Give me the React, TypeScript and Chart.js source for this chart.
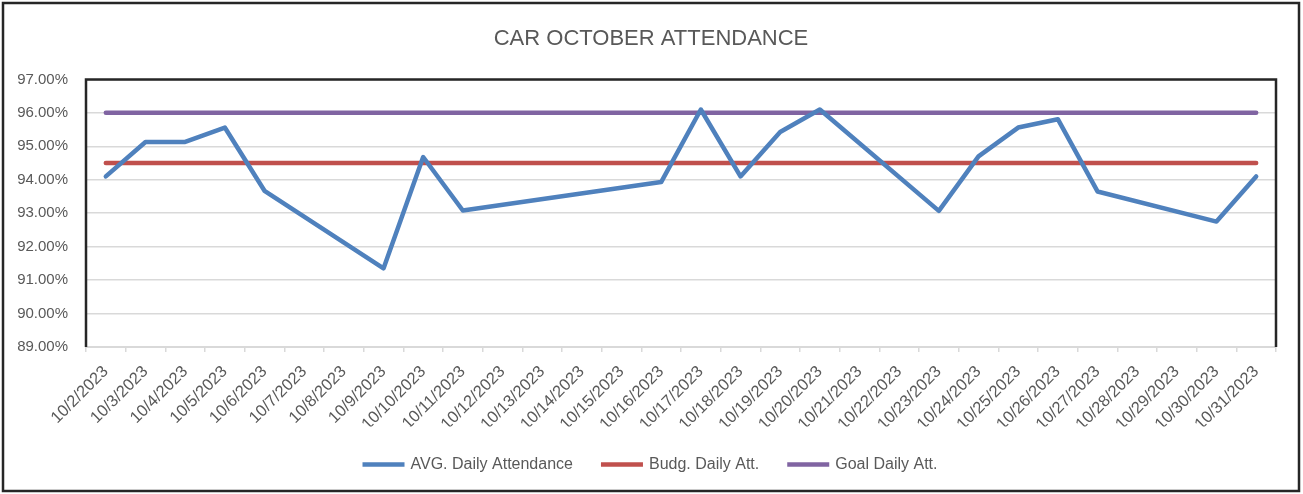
import React, { useEffect, useRef } from 'react';
import { Chart, registerables } from 'chart.js';

Chart.register(...registerables);

const categories = [
  '10/2/2023', '10/3/2023', '10/4/2023', '10/5/2023', '10/6/2023', '10/7/2023',
  '10/8/2023', '10/9/2023', '10/10/2023', '10/11/2023', '10/12/2023', '10/13/2023',
  '10/14/2023', '10/15/2023', '10/16/2023', '10/17/2023', '10/18/2023', '10/19/2023',
  '10/20/2023', '10/21/2023', '10/22/2023', '10/23/2023', '10/24/2023', '10/25/2023',
  '10/26/2023', '10/27/2023', '10/28/2023', '10/29/2023', '10/30/2023', '10/31/2023',
];

const avgDailyAttendance = [
  94.1, 95.13, 95.13, 95.56, 93.67, null,
  null, 91.35, 94.68, 93.08, null, null,
  null, null, 93.93, 96.1, 94.1, 95.43,
  96.1, null, null, 93.07, 94.7, 95.56,
  95.81, 93.65, null, null, 92.75, 94.1,
];

const budgDailyAtt = [
  94.5, 94.5, 94.5, 94.5, 94.5, 94.5,
  94.5, 94.5, 94.5, 94.5, 94.5, 94.5,
  94.5, 94.5, 94.5, 94.5, 94.5, 94.5,
  94.5, 94.5, 94.5, 94.5, 94.5, 94.5,
  94.5, 94.5, 94.5, 94.5, 94.5, 94.5,
];

const goalDailyAtt = [
  96, 96, 96, 96, 96, 96,
  96, 96, 96, 96, 96, 96,
  96, 96, 96, 96, 96, 96,
  96, 96, 96, 96, 96, 96,
  96, 96, 96, 96, 96, 96,
];

const yMin = 89;
const yMax = 97;
const yStep = 1;

const FONT = "'Liberation Sans', Arial, sans-serif";
const TEXT = '#595959';

const framePlugin = {
  id: 'frame',
  beforeLayout(chart: any) {
    const lg = chart.legend;
    if (lg && !lg.__patched) {
      const orig = lg.fit.bind(lg);
      lg.fit = function () {
        orig();
        this.height = 67.5;
      };
      lg.__patched = true;
    }
  },
  afterLayout(chart: any) {
    // centre title and legend over the same span as the reference
    if (chart.legend) chart.legend.left = 26;
    if (chart.titleBlock) chart.titleBlock.left = 26;
  },
  beforeDatasetsDraw(chart: any) {
    const { ctx, chartArea } = chart;
    const { left, top, right, bottom } = chartArea;
    ctx.save();
    ctx.strokeStyle = '#262626';
    ctx.lineWidth = 2.5;
    ctx.beginPath();
    ctx.moveTo(left, bottom);
    ctx.lineTo(left, top);
    ctx.lineTo(right, top);
    ctx.lineTo(right, bottom);
    ctx.stroke();
    ctx.restore();
  },
  afterDraw(chart: any) {
    const { ctx, width, height } = chart;
    ctx.save();
    ctx.strokeStyle = '#262626';
    ctx.lineWidth = 2.5;
    ctx.strokeRect(3, 3, width - 7, height - 6);
    ctx.restore();
  },
};

export default function App() {
  const ref = useRef<HTMLCanvasElement>(null);

  useEffect(() => {
    document.body.style.margin = '0';
    const chart = new Chart(ref.current!, {
      type: 'line',
      data: {
        labels: categories,
        datasets: [
          {
            label: 'AVG. Daily Attendance',
            data: avgDailyAttendance,
            borderColor: '#4F81BD',
            backgroundColor: '#4F81BD',
            borderWidth: 4.5,
            pointRadius: 0,
            spanGaps: true,
            borderJoinStyle: 'round',
            borderCapStyle: 'round',
          },
          {
            label: 'Budg. Daily Att.',
            data: budgDailyAtt,
            borderColor: '#C0504D',
            backgroundColor: '#C0504D',
            borderWidth: 4.5,
            pointRadius: 0,
            borderCapStyle: 'round',
          },
          {
            label: 'Goal Daily Att.',
            data: goalDailyAtt,
            borderColor: '#8064A2',
            backgroundColor: '#8064A2',
            borderWidth: 4.5,
            pointRadius: 0,
            borderCapStyle: 'round',
          },
        ],
      } as any,
      options: {
        responsive: false,
        animation: false,
        events: [],
        layout: { padding: { left: 0, right: 27, top: 0, bottom: 0 } },
        plugins: {
          title: {
            display: true,
            text: 'CAR OCTOBER ATTENDANCE',
            color: TEXT,
            font: { family: FONT, size: 22, weight: 'normal' },
            padding: { top: 26, bottom: 27 },
          },
          legend: {
            position: 'bottom',
            labels: {
              boxWidth: 38,
              boxHeight: 0.5,
              padding: 30,
              color: TEXT,
              font: { family: FONT, size: 16 },
              generateLabels: (c: any) => {
                const items = (Chart.defaults.plugins.legend.labels as any).generateLabels(c);
                return items.map((it: any) => ({
                  ...it,
                  fillStyle: it.strokeStyle,
                  lineWidth: 4,
                  lineJoin: 'miter',
                  lineCap: 'butt',
                  lineDash: [],
                }));
              },
            },
          },
          tooltip: { enabled: false },
        },
        scales: {
          x: {
            offset: true,
            afterFit: (s: any) => { s.height = 79.5; },
            grid: {
              offset: true,
              drawOnChartArea: false,
              drawTicks: true,
              tickLength: 5,
              color: '#d9d9d9',
              lineWidth: 1.5,
            },
            border: { display: true, color: '#d9d9d9', width: 2 },
            ticks: {
              autoSkip: false,
              maxRotation: 45,
              minRotation: 45,
              padding: 10,
              color: TEXT,
              font: { family: FONT, size: 16.5 },
            },
          },
          y: {
            min: yMin,
            max: yMax,
            afterFit: (s: any) => { s.width = 86; },
            grid: { color: '#d9d9d9', lineWidth: 1.5, drawTicks: false },
            border: { display: false },
            ticks: {
              stepSize: yStep,
              padding: 18,
              color: TEXT,
              font: { family: FONT, size: 15 },
              callback: (v: any) => Number(v).toFixed(2) + '%',
            },
          },
        },
      } as any,
      plugins: [framePlugin],
    });
    return () => chart.destroy();
  }, []);

  return (
    <div style={{ width: 1303, height: 494, position: 'relative' }}>
      <canvas ref={ref} width={1303} height={494} />
    </div>
  );
}
